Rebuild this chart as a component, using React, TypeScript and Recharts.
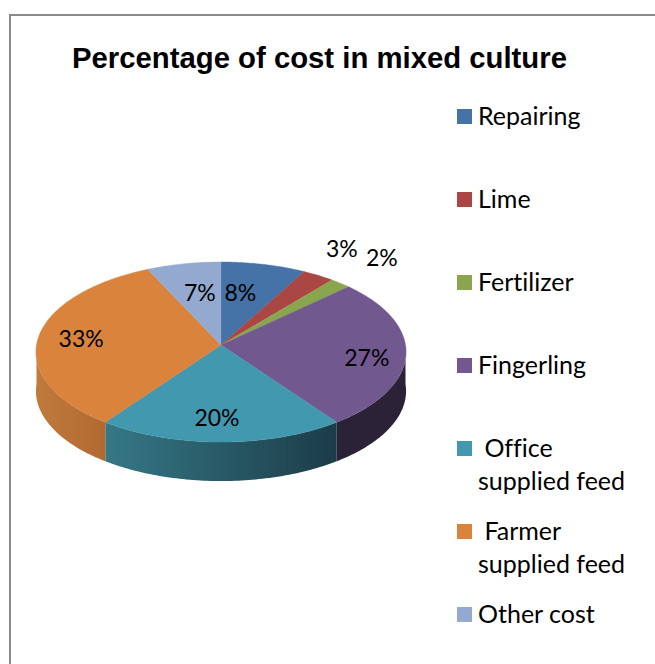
import React from "react";
import { PieChart, Pie, Legend } from "recharts";

const categories = [
  "Repairing",
  "Lime",
  "Fertilizer",
  "Fingerling",
  " Office supplied feed",
  " Farmer supplied feed",
  "Other cost",
];
const shares = [8, 3, 2, 27, 20, 33, 7];
const faceColours = ["#4572A7", "#AA4643", "#89A54E", "#71588F", "#4198AF", "#D9833D", "#93A9CF"];
const wallFrom = ["#39608c", "#8c3a38", "#71883f", "#2c2237", "#367886", "#c07a3c", "#7a8cab"];
const wallTo = ["#39608c", "#8c3a38", "#71883f", "#2c2237", "#1b3c48", "#b16931", "#7a8cab"];

// Radial fraction of each percentage label plus a small nudge in pixels.
const labelPlacement = [
  { f: 0.6, dx: -7, dy: -3 },
  { f: 1.35, dx: -8, dy: -5 },
  { f: 1.4, dx: -3, dy: -3 },
  { f: 0.8, dx: -2, dy: 5 },
  { f: 0.75, dx: -4, dy: 1 },
  { f: 0.76, dx: -1, dy: -1 },
  { f: 0.6, dx: 2, dy: -3 },
];

const tableRows = categories.map((name, i) => ({
  name,
  value: shares[i],
  fill: faceColours[i],
  colourIndex: i,
}));

const FONT = "Lato, 'Open Sans', sans-serif";
const TILT = 0.485; // vertical squash of the tilted disc
const PERSPECTIVE = 0.0778; // the far rim shrinks, the near rim grows
const DEPTH = 39; // wall height of the disc

// Project a point of the flat pie (Recharts degrees, radius fraction f) onto the tilted disc.
function project(cx: number, cy: number, r: number, deg: number, f = 1, drop = 0) {
  const rad = (deg * Math.PI) / 180;
  const u = f * Math.cos(rad);
  const v = f * Math.sin(rad);
  const w = 1 + PERSPECTIVE * v;
  return { x: cx + (r * u) / w, y: cy - (r * TILT * v) / w + drop };
}

function arcPoints(cx: number, cy: number, r: number, from: number, to: number, drop = 0) {
  const steps = Math.max(2, Math.ceil(Math.abs(to - from)));
  const points: { x: number; y: number }[] = [];
  for (let i = 0; i <= steps; i++) {
    points.push(project(cx, cy, r, from + ((to - from) * i) / steps, 1, drop));
  }
  return points;
}

const toPath = (pts: { x: number; y: number }[]) =>
  pts.map((p, i) => `${i ? "L" : "M"}${p.x.toFixed(2)},${p.y.toFixed(2)}`).join(" ");

function DiscSlice(props: any) {
  const { cx, cy, outerRadius, startAngle, endAngle, fill, colourIndex } = props;
  const idx = colourIndex ?? props.payload?.colourIndex ?? 0;
  const hi = Math.max(startAngle, endAngle);
  const lo = Math.min(startAngle, endAngle);

  // The visible wall is the part of the rim on the near side (angles -180..0).
  const wallHi = Math.min(hi, 0);
  const wallLo = Math.max(lo, -180);
  const hasWall = wallHi > wallLo;
  const gradId = `wall-${idx}`;

  const rim = arcPoints(cx, cy, outerRadius, startAngle, endAngle);
  const face = `M${cx},${cy} ${toPath(rim).replace("M", "L")} Z`;

  let wall = "";
  if (hasWall) {
    const upper = arcPoints(cx, cy, outerRadius, wallHi, wallLo);
    const lower = arcPoints(cx, cy, outerRadius, wallLo, wallHi, DEPTH);
    wall = `${toPath(upper)} ${toPath(lower).replace("M", "L")} Z`;
  }

  return (
    <g>
      {hasWall && (
        <>
          <linearGradient id={gradId} x1="0" y1="0" x2="1" y2="0">
            <stop offset="0" stopColor={wallFrom[idx]} />
            <stop offset="1" stopColor={wallTo[idx]} />
          </linearGradient>
          <path d={wall} fill={`url(#${gradId})`} stroke="none" />
        </>
      )}
      <path d={face} fill={fill} stroke={fill} strokeWidth={0.4} />
    </g>
  );
}

function PercentLabel(props: any) {
  const { cx, cy, outerRadius, midAngle, index } = props;
  const place = labelPlacement[index];
  const p = project(cx, cy, outerRadius, midAngle, place.f);
  return (
    <text
      x={p.x + place.dx}
      y={p.y + place.dy}
      textAnchor="middle"
      dominantBaseline="central"
      fontFamily={FONT}
      fontSize={23}
      fill="#000"
    >
      {`${shares[index]}%`}
    </text>
  );
}

function CostLegend() {
  return (
    <div
      style={{
        position: "relative",
        width: 190,
        height: 540,
        fontFamily: FONT,
        fontSize: 25,
        fontVariantLigatures: "none",
      }}
    >
      {tableRows.map((row, i) => (
        <div key={row.name} style={{ position: "absolute", left: 0, top: i * 83 }}>
          <span
            style={{
              position: "absolute",
              left: 0,
              top: 0,
              width: 15,
              height: 15,
              background: row.fill,
            }}
          />
          <div
            style={{
              position: "absolute",
              left: 21,
              top: -10,
              width: 158,
              lineHeight: "33px",
              whiteSpace: "pre-wrap",
              color: "#000",
            }}
          >
            {row.name}
          </div>
        </div>
      ))}
    </div>
  );
}

export default function App() {
  return (
    <div style={{ position: "fixed", left: 0, top: 0, width: 655, height: 664, overflow: "hidden", background: "#fff" }}>
      <div
        style={{
          position: "absolute",
          left: 9,
          top: 14,
          width: 660,
          height: 670,
          borderLeft: "2px solid #8a8a8a",
          borderTop: "2px solid #8a8a8a",
        }}
      />
      <div
        style={{
          position: "absolute",
          left: 72,
          top: 41,
          fontFamily: "'Liberation Sans', Arial, sans-serif",
          fontWeight: 700,
          fontSize: 29.3,
          lineHeight: "34px",
          whiteSpace: "nowrap",
          color: "#000",
        }}
      >
        Percentage of cost in mixed culture
      </div>
      <PieChart
        width={655}
        height={664}
        margin={{ top: 0, right: 0, bottom: 0, left: 0 }}
        style={{ position: "absolute", left: 0, top: 0 }}
      >
        <Pie
          data={tableRows}
          dataKey="value"
          nameKey="name"
          cx={221}
          cy={345}
          outerRadius={184.5}
          startAngle={90}
          endAngle={-270}
          stroke="none"
          isAnimationActive={false}
          shape={DiscSlice}
          label={PercentLabel}
          labelLine={false}
        />
        <Legend
          layout="vertical"
          align="center"
          verticalAlign="middle"
          content={CostLegend}
          wrapperStyle={{ position: "absolute", left: 457, top: 109, width: 190 }}
        />
      </PieChart>
    </div>
  );
}
